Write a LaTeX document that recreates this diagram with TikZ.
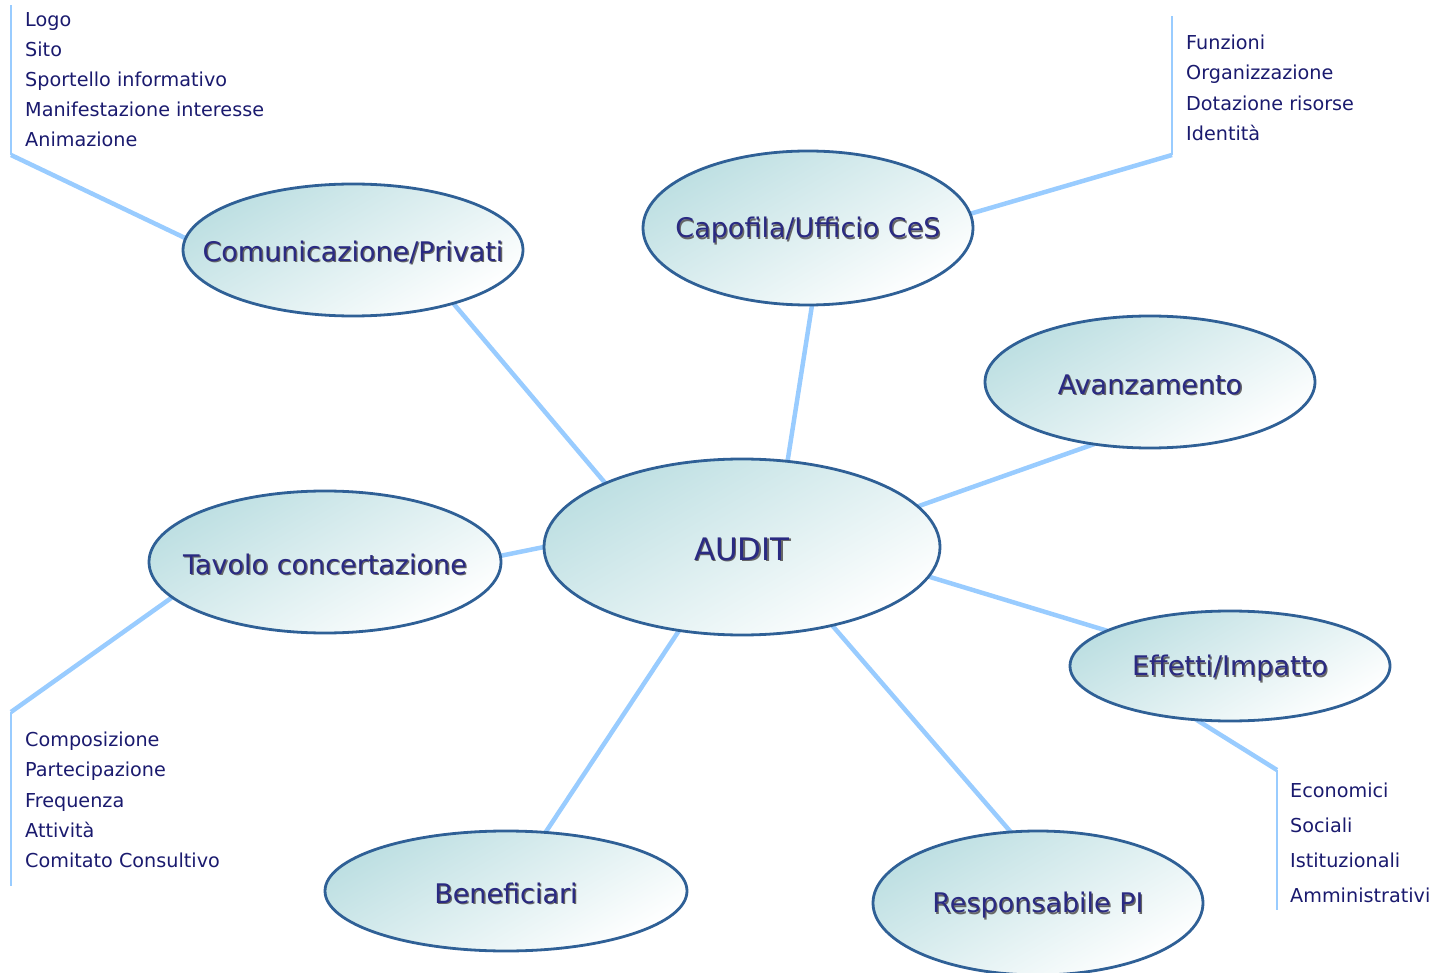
\documentclass[tikz,border=0pt]{standalone}
\usepackage{fontspec}
\setmainfont{DejaVu Sans}
\usetikzlibrary{shapes.geometric,backgrounds}
\definecolor{conn}{HTML}{99CCFF}
\definecolor{edgec}{HTML}{2F6096}
\definecolor{ltxt}{HTML}{1A1A6E}
\definecolor{etxt}{HTML}{2A2A82}
\definecolor{fillc}{HTML}{BDDFE2}
\newcommand\shtxt[1]{\raisebox{-3pt}[\height][\depth]{\makebox[0pt][c]{\rlap{\kern1.3pt\raisebox{-1.3pt}{\color{black!60}#1}}#1}}}
\begin{document}
\begin{tikzpicture}[x=1pt,y=-1pt,
 bubble/.style={ellipse, draw=edgec, line width=2.8pt, inner sep=0pt, outer sep=0pt,
   top color=fillc, bottom color=white, shading angle=30, text=etxt,
   font=\fontsize{27}{32}\selectfont},
 link/.style={draw=conn, line width=4.5pt},
 tick/.style={draw=conn, line width=2.5pt},
 item/.style={anchor=base west, inner sep=0pt, text=ltxt, font=\fontsize{19.2}{23}\selectfont}]
\useasboundingbox (0,0) rectangle (1441,973);

% bubbles
\node[bubble, minimum width=340pt, minimum height=132pt] (comm) at (353,250) {\shtxt{Comunicazione/Privati}};
\node[bubble, minimum width=330pt, minimum height=154pt] (cap) at (808,228) {\shtxt{Capofila/Ufficio CeS}};
\node[bubble, minimum width=330pt, minimum height=132pt] (avz) at (1150,382) {\shtxt{Avanzamento}};
\node[bubble, minimum width=396pt, minimum height=176pt, font=\fontsize{31}{36}\selectfont] (audit) at (742,547) {\shtxt{AUDIT}};
\node[bubble, minimum width=352pt, minimum height=142pt] (tav) at (325,562) {\shtxt{Tavolo concertazione}};
\node[bubble, minimum width=320pt, minimum height=110pt] (eff) at (1230,666) {\shtxt{Effetti/Impatto}};
\node[bubble, minimum width=362pt, minimum height=120pt] (ben) at (506,891) {\shtxt{Beneficiari}};
\node[bubble, minimum width=330pt, minimum height=144pt] (resp) at (1038,903) {\shtxt{Responsabile PI}};

% bracket corners
\coordinate (tlb) at (11,155);
\coordinate (tlt) at (11,5);
\coordinate (trb) at (1172,155);
\coordinate (trt) at (1172,16);
\coordinate (blt) at (11,712);
\coordinate (blb) at (11,886);
\coordinate (brt) at (1277,770);
\coordinate (brb) at (1277,910);

\begin{pgfonlayer}{background}
\draw[link] (comm.-28) -- (audit.155.6);
\draw[link] (cap.-87) -- (audit.62.4);
\draw[link] (avz.-132.6) -- (audit.13.4);
\draw[link] (tav.2) -- (audit.180);
\draw[link] (audit.-9.8) -- (eff.164.5);
\draw[link] (audit.-127) -- (ben.56.5);
\draw[link] (audit.-41.7) -- (resp.111);
\draw[link] (comm.176) -- (tlb);
\draw[tick] (tlb) -- (tlt);
\draw[link] (cap.5.5) -- (trb);
\draw[tick] (trb) -- (trt);
\draw[link] (tav.-167.8) -- (blt);
\draw[tick] (blt) -- (blb);
\draw[link] (eff.-122) -- (brt);
\draw[tick] (brt) -- (brb);
\end{pgfonlayer}

% lists
\node[item] (a1) at (25,27) {Logo};
\node[item] (a2) at (25,57) {Sito};
\node[item] (a3) at (25,87) {Sportello informativo};
\node[item] (a4) at (25,117) {Manifestazione interesse};
\node[item] (a5) at (25,147) {Animazione};

\node[item] (b1) at (1186,50) {Funzioni};
\node[item] (b2) at (1186,80) {Organizzazione};
\node[item] (b3) at (1186,111) {Dotazione risorse};
\node[item] (b4) at (1186,141) {Identità};

\node[item] (c1) at (25,746) {Composizione};
\node[item] (c2) at (25,776) {Partecipazione};
\node[item] (c3) at (25,807) {Frequenza};
\node[item] (c4) at (25,837) {Attività};
\node[item] (c5) at (25,867) {Comitato Consultivo};

\node[item] (d1) at (1290,797) {Economici};
\node[item] (d2) at (1290,832) {Sociali};
\node[item] (d3) at (1290,867) {Istituzionali};
\node[item] (d4) at (1290,902) {Amministrativi};
\end{tikzpicture}
\end{document}
